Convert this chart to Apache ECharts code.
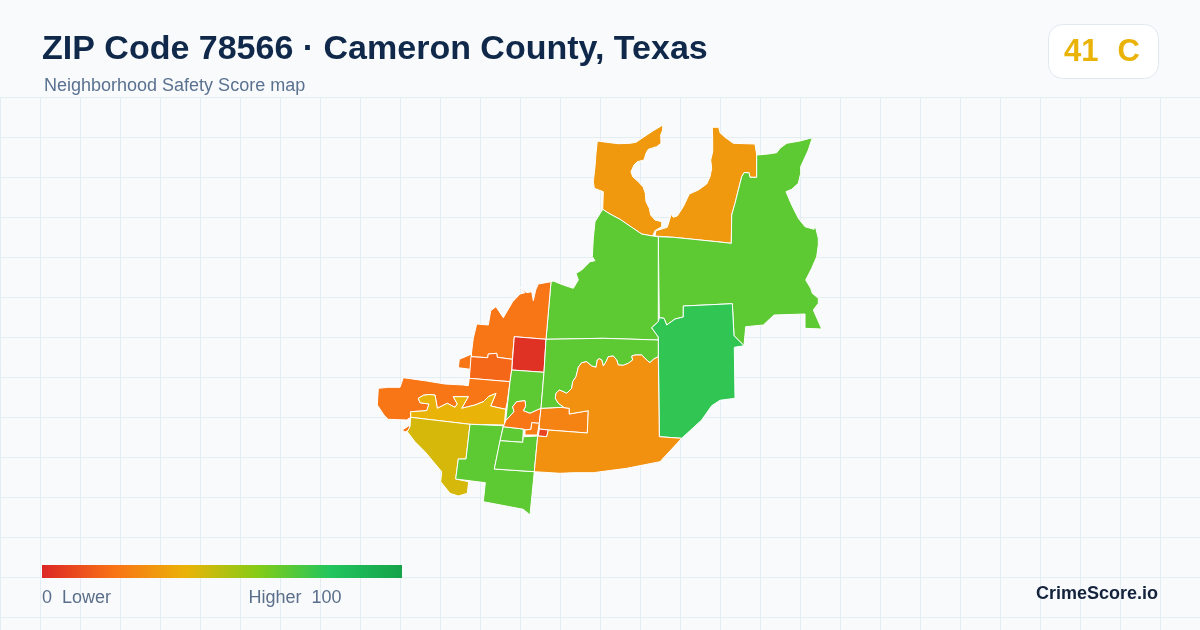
<!DOCTYPE html>
<html><head><meta charset="utf-8">
<style>html,body{margin:0;padding:0;background:#f8fafc}#c{width:1200px;height:630px}</style>
<script src="https://cdn.jsdelivr.net/npm/echarts@6/dist/echarts.min.js"></script>
</head><body><div id="c"></div>
<script>
const titleText = 'ZIP Code 78566 · Cameron County, Texas';
const subtitleText = 'Neighborhood Safety Score map';
const badgeScore = '41';
const badgeGrade = 'C';
const legendLow = '0  Lower';
const legendHigh = 'Higher  100';
const brandText = 'CrimeScore.io';
const rampColors = ['#dc2626','#f97316','#eab308','#84cc16','#22c55e','#16a34a'];

// Boundary rings of each neighbourhood, in map units
const nwOrange = [[597.3,141,606.7,142.3,618.3,143.7,630,143.3,636,142.3,643.3,137.3,653.3,130.7,660,126.7,662.7,125,662.7,130,660.7,135,661,143.3,656.7,146.7,648.3,149.3,646,153.3,644,160,637.3,161.7,634,165,631,171.7,632.7,176.7,638.3,181.7,643.3,187.3,645.3,193.3,646,201.7,649.3,208.3,650.7,215,655,220,661.7,221.7,661.7,226.7,655,230.7,652.7,236,641.7,234,631.7,227.3,620,219.3,610,214,602.7,209.3,603.3,191.7,594.3,188.3,593.3,181.7,595,166.7,596,153.3]];
const neOrange = [[712.3,127.3,718.7,127.3,720,132.7,725,137.3,733.3,143.3,755,144,756.7,155,756.7,177.3,750,177.3,749,172.7,744,172.7,741.7,176.7,738.3,190,735,203.3,731.7,215,731.3,243.3,716.7,241.7,693.3,239.3,673.3,237.3,655,236,656,230.7,667.3,227.3,670,218.3,671,214,673.3,217.3,677.3,216,683.3,206.7,689.3,194,698.3,190,706.7,184,710,176.7,711.7,168.3,710.7,160,712.7,151.7,712.7,140]];
const eastGreen = [[756.7,155,768.3,154,776.7,152.7,780,148.3,786.7,143.3,800,141,812.3,137.7,808.3,150,800.7,166.7,800.7,173.3,798.3,183.3,791.7,189.3,786,191.7,791.7,205,798.3,218.3,805,226.7,814,229.3,815,225,818.3,238.3,818.3,245,816.7,256.7,811.7,268.3,805.7,280,810.7,288.3,812.3,293.3,818.3,298.3,818.3,303.3,813.3,310,821.7,329,805,328.3,805,314,774,315,763.3,325,745.7,326.7,744,345.7,734,335.7,732.3,303.7,683.3,306,683.3,317,675,319,666.7,325,664,318.3,659.3,317.7,658.3,317,658.3,236.7,673.3,237.3,693.3,239.3,716.7,241.7,731.3,243.3,731.7,215,735,203.3,738.3,190,741.7,176.7,744,172.7,749,172.7,750,177.3,756.7,177.3]];
const northGreen = [[553.3,281,563.3,285,573.3,288.3,578.3,280,576,273.3,581.7,270,590,261.7,595,260.7,592.3,256.7,593.3,238.3,595,221.7,602.7,209.3,610,214,620,219.3,631.7,227.3,641.7,234,652.7,236,658.3,236.7,658.3,321.7,651.7,327.7,658.3,337,658.3,340,603.3,338.3,546,339.3,551,281.7]];
const darkGreen = [[683.3,306,732.3,303.7,734,335.7,744,345.7,734.3,347.3,735,398.3,720,400.3,711.7,405.7,701.7,420,681.7,438.3,659.3,436.7,658.3,337,651.7,327.7,658.3,321.7,659.3,317.7,664,318.3,666.7,325,675,319,683.3,317]];
const westOrange = [[551,281.7,546,339.3,514.3,336.7,512.3,359.3,497.3,357.3,496.7,353.3,488.3,354,487.7,357.7,471,356.7,473.3,338.3,476.7,324,488.3,325,490.7,310.7,496,306.7,503.3,317.7,512.7,301.7,520,294,525,292.7,519.3,286.7,526.7,292.7,531.7,291.7,533.3,300.7,535.7,290,538.3,284],[471.7,354,459.3,359.3,458.3,367.7,470.3,369.3]];
const redSquare = [[514.3,336.7,546,339.3,544,372.3,511.7,370]];
const westStrip = [[471,356.7,487.7,357.7,488.3,354,496.7,353.3,497.3,357.3,512.3,359.3,511.7,370,510,381.7,469.3,378.3]];
const swOrange = [[403.3,377.7,426.7,381,445,384,463.3,385,468.3,385.7,469.3,378.3,510,381.7,507.3,401.7,505.7,409.3,490.7,406,496,393.3,488.3,396.7,483.3,401.7,475,405,461.7,408.3,468.3,396.7,453.3,396.7,457.3,404,455,407.3,447.3,403.3,437.3,408.3,435,395,429,394.5,423.3,395.3,418.3,398.3,420,402.7,429,404,426.7,410.7,410.7,411.7,410.7,417.3,406.7,420,388.3,419.3,386.7,418,384,415,377.3,405,378.3,388.3,388.3,387.3,400,387.3],[402.3,430,410,425,409,430,405,432]];
const yellowStrip = [[410.7,411.7,426.7,410.7,429,404,420,402.7,418.3,398.3,423.3,395.3,429,394.5,435,395,437.3,408.3,447.3,403.3,455,407.3,457.3,404,453.3,396.7,468.3,396.7,461.7,408.3,475,405,483.3,401.7,488.3,396.7,496,393.3,490.7,406,505.7,409.3,504.3,425,470,424.3,410.7,417.3]];
const oliveSouth = [[410.7,417.3,470,424.3,466,459,458.3,459,455.7,479,468.7,481.7,467.3,493.3,458.3,496,450,493.3,440.7,481.7,441.7,471.7,425,451.7,415,441.7,407.3,431.7,410,426.7]];
const southGreen = [[470,424.3,503.3,425.7,498.3,450,494.3,469,534.3,471.7,530,515,523.3,509.3,483.3,501.7,485.3,482.7,455.7,479,458.3,459,466,459]];
const smallGreen = [[503.3,426.7,523.3,429,522.7,442.3,500,440.7]];
const midGreen = [[500,440.7,522.7,442.3,523.3,436.7,537.7,436,534.3,471.7,494.3,469]];
const stemGreen = [[511.7,370,544,372.3,541,408.3,530,413.3,523.3,410.7,525.7,406,525,400.7,516.7,401.7,512.7,406.7,514,411.7,505.7,420.7,510,381.7]];
const centreOrange = [[505.7,420.7,514,411.7,512.7,406.7,516.7,401.7,525,400.7,525.7,406,523.3,410.7,530,413.3,541,408.3,539.3,423.3,531.7,422.7,531,429.3,525,430,523.3,429,503.3,426.7]];
const blockOrange = [[525,430,531,429.3,531.7,422.7,539.3,423.3,537.3,435,525,435]];
const stripOrange = [[541,408.3,561.7,407.3,569.3,408.3,569.3,414,588.3,410.7,587.3,433,548.3,430,539.3,429,539.3,423.3]];
const tinyRed = [[539.3,429,548.3,430,546.7,436.7,538.3,436]];
const centralGreen = [[546,339.3,603.3,338.3,658.3,340,658.3,356.7,653.3,359.3,650,362.7,646,359.3,641.7,355,635,355,631.7,356,632.7,360,628.3,363.3,623.3,365.3,618.3,365,616.7,360,613.3,356,608.3,356.7,606,361.7,603.3,366,601.7,360,599.3,358.7,597.3,360,596,367.3,591.7,366,586.7,361.7,581.7,362.7,578.3,367.3,576,376.7,572.7,381.7,571.7,388.3,566.7,393.3,563.3,391.7,559.3,390,556,393.3,555.3,398.3,558.3,403.3,563.3,406.7,561.7,407.3,541,408.3,544,372.3]];
const southOrange = [[658.3,356.7,659.3,436.7,681.7,438.3,660,461.7,626.7,468.3,593.3,472.7,573.3,472.7,560,473.3,534.3,471.7,537.7,436,538.3,436,546.7,436.7,548.3,430,587.3,433,588.3,410.7,569.3,414,569.3,408.3,561.7,407.3,563.3,406.7,558.3,403.3,555.3,398.3,556,393.3,559.3,390,563.3,391.7,566.7,393.3,571.7,388.3,572.7,381.7,576,376.7,578.3,367.3,581.7,362.7,586.7,361.7,591.7,366,596,367.3,597.3,360,599.3,358.7,601.7,360,603.3,366,606,361.7,608.3,356.7,613.3,356,616.7,360,618.3,365,623.3,365.3,628.3,363.3,632.7,360,631.7,356,635,355,641.7,355,646,359.3,650,362.7,653.3,359.3]];

const regionNames = ['NW Orange','NE Orange','East Green','North Green','Dark Green','West Orange','Red Square','West Strip','SW Orange','Yellow Strip','Olive South','South Green','Small Green','Mid Green','Stem Green','Centre Orange','Block Orange','Strip Orange','Tiny Red','Central Green','South Orange'];
const regionScores = [32,32,68,68,77,21,3,17,21,40,44,68,68,68,68,21,23,25,8,68,29];
const regionRings = [nwOrange,neOrange,eastGreen,northGreen,darkGreen,westOrange,redSquare,westStrip,swOrange,yellowStrip,oliveSouth,southGreen,smallGreen,midGreen,stemGreen,centreOrange,blockOrange,stripOrange,tinyRed,centralGreen,southOrange];

function pairs(flat){const o=[];for(let i=0;i<flat.length;i+=2)o.push([flat[i],flat[i+1]]);o.push([flat[0],flat[1]]);return o;}
const features = regionNames.map((name,i)=>({type:'Feature',properties:{name},
  geometry:{type:'MultiPolygon',coordinates:regionRings[i].map(r=>[pairs(r)])}}));
echarts.registerMap('zip78566',{type:'FeatureCollection',features});

let x0=1e9,x1=-1e9,y0=1e9,y1=-1e9;
regionRings.forEach(rs=>rs.forEach(r=>{for(let i=0;i<r.length;i+=2){x0=Math.min(x0,r[i]);x1=Math.max(x1,r[i]);y0=Math.min(y0,r[i+1]);y1=Math.max(y1,r[i+1]);}}));

const chart = echarts.init(document.getElementById('c'),null,{renderer:'canvas',width:1200,height:630});
const ident = {project:p=>[p[0],p[1]],unproject:p=>[p[0],p[1]]};
chart.setOption({
  animation:false,
  backgroundColor:'#f8fafc',
  grid:{left:0,right:0,top:97,bottom:0,containLabel:false,z:0},
  xAxis:{type:'value',min:0,max:1200,interval:40,axisLine:{show:false},axisTick:{show:false},axisLabel:{show:false},
    splitLine:{show:true,lineStyle:{color:'#e4edf2',width:1}}},
  yAxis:{type:'value',inverse:true,min:0,max:533,interval:40,axisLine:{show:false},axisTick:{show:false},axisLabel:{show:false},
    splitLine:{show:true,lineStyle:{color:'#e4edf2',width:1}}},
  title:[
    {text:titleText,left:42,top:33,padding:0,textStyle:{fontFamily:'Liberation Sans',fontWeight:'bold',fontSize:34,color:'#10294a'}},
    {text:subtitleText,left:44,top:77,padding:0,textStyle:{fontFamily:'Liberation Sans',fontWeight:'normal',fontSize:18,color:'#5a7290'}},
    {text:legendLow,left:42,top:589,padding:0,textStyle:{fontFamily:'Liberation Sans',fontWeight:'normal',fontSize:18,color:'#5b6f8a'}},
    {text:legendHigh,right:858.5,top:589,padding:0,textStyle:{fontFamily:'Liberation Sans',fontWeight:'normal',fontSize:18,color:'#5b6f8a'}},
    {text:brandText,right:42,top:585,padding:0,textStyle:{fontFamily:'Liberation Sans',fontWeight:'bold',fontSize:18,color:'#14233c'}}
  ],
  visualMap:{type:'continuous',show:false,min:0,max:100,seriesIndex:0,inRange:{color:rampColors}},
  graphic:[
    {type:'rect',z:10,shape:{x:42,y:565,width:360,height:13},style:{fill:new echarts.graphic.LinearGradient(0,0,1,0,
      rampColors.map((c,i)=>({offset:i/(rampColors.length-1),color:c})))}},
    {type:'rect',z:10,shape:{x:1048.5,y:24.5,width:110,height:54,r:14},style:{fill:'#ffffff',stroke:'#e2e8f0',lineWidth:1}},
    {type:'text',z:11,style:{x:1064,y:52,text:badgeScore,fill:'#eab308',font:'bold 31px "Liberation Sans"',textVerticalAlign:'middle'}},
    {type:'text',z:11,style:{x:1117.5,y:52,text:badgeGrade,fill:'#eab308',font:'bold 31px "Liberation Sans"',textVerticalAlign:'middle'}}
  ],
  series:[{type:'map',map:'zip78566',projection:ident,silent:true,roam:false,
    layoutCenter:[(x0+x1)/2,(y0+y1)/2],layoutSize:x1-x0,
    label:{show:false},emphasis:{disabled:true},select:{disabled:true},
    itemStyle:{borderColor:'#ffffff',borderWidth:1},
    data:regionNames.map((n,i)=>({name:n,value:regionScores[i]}))}]
});
</script></body></html>
